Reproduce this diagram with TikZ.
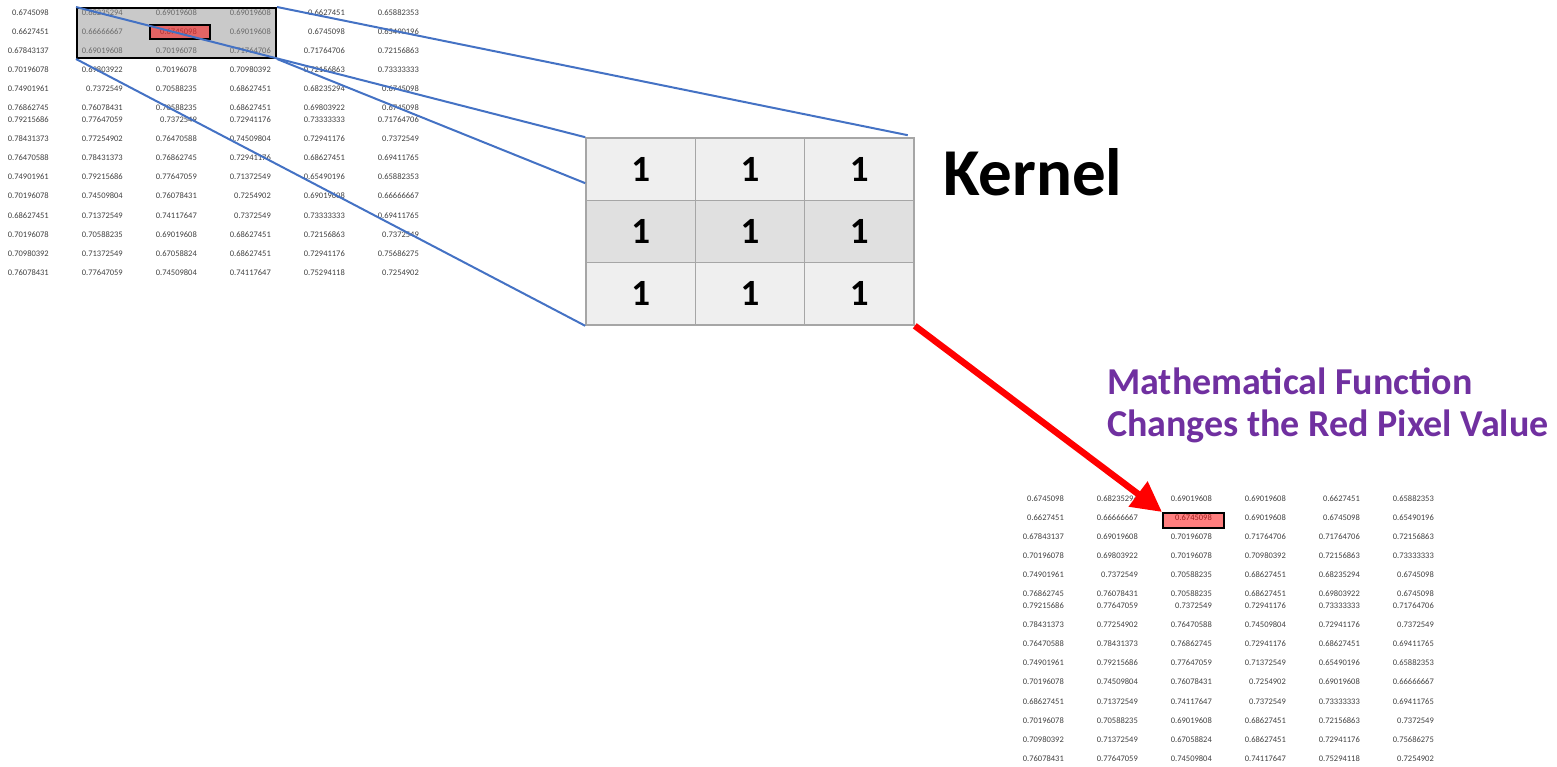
\documentclass[tikz,border=0pt]{standalone}
\usepackage{fontspec}
\setmainfont{Carlito}
\usetikzlibrary{arrows.meta}

\definecolor{linkblue}{HTML}{4472C4}
\definecolor{fnpurple}{HTML}{7030A0}
\definecolor{cellpale}{HTML}{EFEFEF}
\definecolor{cellmid}{HTML}{E0E0E0}
\definecolor{cellline}{HTML}{A6A6A6}
\definecolor{numtext}{HTML}{404040}
\definecolor{selgray}{HTML}{949494}

% pixel values of the 15 x 6 image patch, row by row
\newcommand\pixvalues{%
{0.6745098,0.68235294,0.69019608,0.69019608,0.6627451,0.65882353},%
{0.6627451,0.66666667,0.6745098,0.69019608,0.6745098,0.65490196},%
{0.67843137,0.69019608,0.70196078,0.71764706,0.71764706,0.72156863},%
{0.70196078,0.69803922,0.70196078,0.70980392,0.72156863,0.73333333},%
{0.74901961,0.7372549,0.70588235,0.68627451,0.68235294,0.6745098},%
{0.76862745,0.76078431,0.70588235,0.68627451,0.69803922,0.6745098},%
{0.79215686,0.77647059,0.7372549,0.72941176,0.73333333,0.71764706},%
{0.78431373,0.77254902,0.76470588,0.74509804,0.72941176,0.7372549},%
{0.76470588,0.78431373,0.76862745,0.72941176,0.68627451,0.69411765},%
{0.74901961,0.79215686,0.77647059,0.71372549,0.65490196,0.65882353},%
{0.70196078,0.74509804,0.76078431,0.7254902,0.69019608,0.66666667},%
{0.68627451,0.71372549,0.74117647,0.7372549,0.73333333,0.69411765},%
{0.70196078,0.70588235,0.69019608,0.68627451,0.72156863,0.7372549},%
{0.70980392,0.71372549,0.67058824,0.68627451,0.72941176,0.75686275},%
{0.76078431,0.77647059,0.74509804,0.74117647,0.75294118,0.7254902}}
% vertical centres of the rows
\newcommand\rowys{12.5,31.5,50.5,70,89,108,119.5,139,158,177,196,215.5,235,254,273}

% one value table; #1 name prefix, #2 x offset, #3 y offset
\newcommand\pixgrid[3]{%
  \foreach \vals [count=\i] in \pixvalues {
    \pgfmathsetmacro\yy{{\rowys}[\i-1]+#3}
    \foreach \v [count=\j] in \vals {
      \node[pix] (#1-\i-\j) at ({#2+49+74*(\j-1)}, \yy) {\v};
    }
  }%
}

\tikzset{
  pix/.style={anchor=east, inner sep=0pt, text=numtext,
    font=\fontsize{8.5}{10}\selectfont},
  selbox/.style={draw=black, line width=2pt, fill=selgray, fill opacity=0.5,
    inner sep=0pt, anchor=north west},
  redcell/.style={draw=black, line width=2pt, fill=red, fill opacity=0.5,
    inner sep=0pt, anchor=north west, minimum width=60pt, minimum height=13.5pt},
  kcell/.style={draw=cellline, line width=1.6pt, inner sep=0pt,
    minimum width=109.33pt, minimum height=62.33pt,
    font=\bfseries\fontsize{37}{37}\selectfont},
  zoomline/.style={draw=linkblue, line width=2pt},
  bigarrow/.style={draw=red, line width=6.5pt,
    -{Triangle[length=30pt,width=30pt]}},
}

\begin{document}
\begin{tikzpicture}[x=1pt, y=-1pt]
\useasboundingbox (0,0) rectangle (1557,767);

% input patch with the selected 3x3 window
\pixgrid{t}{0}{0}
\node[selbox, minimum width=199pt, minimum height=50pt] (sel) at (76,7) {};
\node[redcell] (tred) at (149,24.5) {};

% output patch with the updated pixel
\pixgrid{b}{1015}{486}
\node[redcell, minimum width=61pt, minimum height=15pt] (bred) at (1162,512) {};

% 3x3 kernel of ones
\foreach \r/\shade in {1/cellpale,2/cellmid,3/cellpale}
  \foreach \c in {1,2,3}
    \node[kcell, fill=\shade] (k\r\c) at ({586+109.33*(\c-0.5)}, {138+62.33*(\r-0.5)}) {1};

% projection lines from the window to the kernel
\draw[zoomline] (sel.north east) -- ([xshift=-7pt,yshift=2pt]k13.north east);
\draw[zoomline] (sel.north west) -- (k11.north west);
\draw[zoomline] (sel.south east) -- ([yshift=-14pt]k11.west);
\draw[zoomline] (sel.south west) -- (k31.south west);

% labels
\node[anchor=base west, inner sep=0pt, font=\bfseries\fontsize{67}{67}\selectfont] (klabel) at (943,196) {Kernel};
\node[anchor=base west, inner sep=0pt, text=fnpurple, font=\bfseries\fontsize{38}{44}\selectfont] (fn1) at (1107,394) {Mathematical Function};
\node[anchor=base west, inner sep=0pt, text=fnpurple, font=\bfseries\fontsize{38}{44}\selectfont] (fn2) at (1107,436) {Changes the Red Pixel Value};

% result arrow
\draw[bigarrow] (k33.south east) -- (bred.north west);
\end{tikzpicture}
\end{document}
